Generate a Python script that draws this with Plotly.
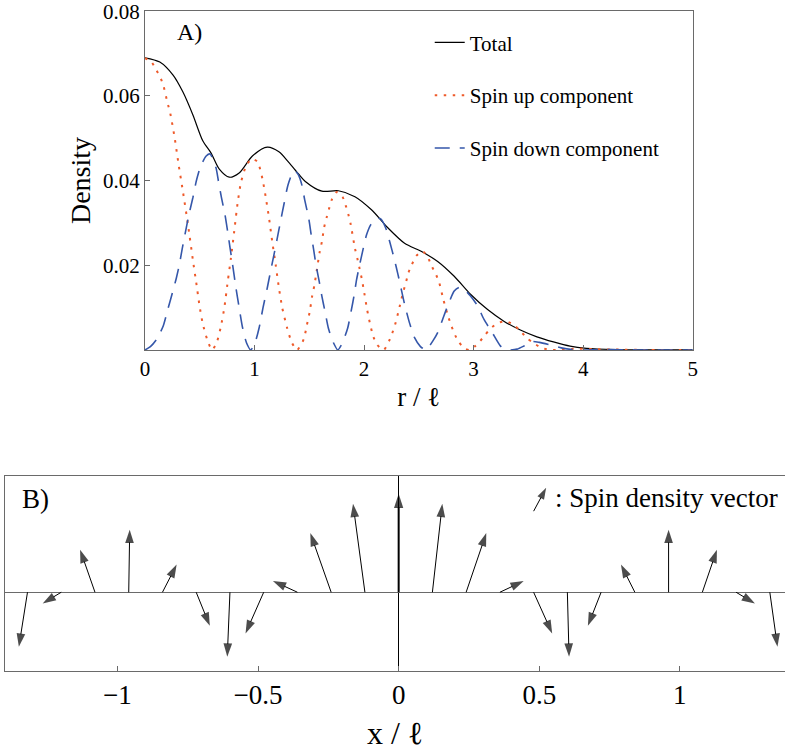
import plotly.graph_objects as go

# ---------------- Panel A data ----------------
r_total = [0.000, 0.136, 0.257, 0.347, 0.438, 0.528, 0.604, 0.679, 0.770, 0.860,
           0.981, 1.117, 1.223, 1.313, 1.404, 1.464, 1.615, 1.766, 1.917, 2.068,
           2.219, 2.370, 2.521, 2.672, 2.823, 2.974, 3.125, 3.276, 3.427, 3.578,
           3.729, 3.880, 4.030, 4.300, 4.600, 5.000]
d_total = [0.0690, 0.0680, 0.0649, 0.0609, 0.0555, 0.0494, 0.0465, 0.0427, 0.0408, 0.0418,
           0.0458, 0.0479, 0.0468, 0.0443, 0.0415, 0.0398, 0.0375, 0.0376, 0.0362, 0.0331,
           0.0288, 0.0252, 0.0233, 0.0209, 0.0174, 0.0131, 0.0096, 0.0068, 0.0047, 0.0031,
           0.0019, 0.0009, 0.0004, 0.0001, 0.0000, 0.0000]

r_up = [0.000, 0.060, 0.106, 0.145, 0.172, 0.205, 0.232, 0.272, 0.308, 0.347,
        0.393, 0.438, 0.468, 0.498, 0.528, 0.573, 0.613, 0.655, 0.694, 0.725,
        0.755, 0.785, 0.815, 0.845, 0.876, 0.921, 0.972, 1.027, 1.072, 1.102,
        1.132, 1.162, 1.193, 1.223, 1.253, 1.298, 1.340, 1.389, 1.449, 1.479,
        1.504, 1.525, 1.546, 1.570, 1.594, 1.615, 1.636, 1.661, 1.682, 1.706,
        1.751, 1.803, 1.833, 1.857, 1.878, 1.917, 1.938, 1.957, 1.978, 2.002,
        2.029, 2.053, 2.083, 2.120, 2.180, 2.228, 2.258, 2.289, 2.319, 2.340,
        2.361, 2.385, 2.406, 2.437, 2.476, 2.536, 2.582, 2.618, 2.657, 2.687,
        2.726, 2.772, 2.799, 2.823, 2.868, 2.914, 2.960, 3.010, 3.059, 3.104,
        3.155, 3.225, 3.297, 3.373, 3.427, 3.487, 3.548, 3.623, 3.700, 3.800,
        3.950, 4.100, 4.300, 4.600, 5.000]
d_up = [0.0689, 0.0680, 0.0660, 0.0641, 0.0621, 0.0585, 0.0558, 0.0500, 0.0437, 0.0374,
        0.0296, 0.0212, 0.0160, 0.0105, 0.0062, 0.0021, 0.0000, 0.0017, 0.0056, 0.0100,
        0.0160, 0.0217, 0.0280, 0.0345, 0.0395, 0.0433, 0.0451, 0.0445, 0.0405, 0.0362,
        0.0313, 0.0256, 0.0202, 0.0147, 0.0100, 0.0052, 0.0018, 0.0000, 0.0025, 0.0060,
        0.0090, 0.0125, 0.0152, 0.0190, 0.0230, 0.0255, 0.0290, 0.0315, 0.0335, 0.0355,
        0.0373, 0.0362, 0.0341, 0.0320, 0.0297, 0.0240, 0.0217, 0.0195, 0.0170, 0.0135,
        0.0094, 0.0064, 0.0033, 0.0012, 0.0000, 0.0021, 0.0040, 0.0065, 0.0096, 0.0119,
        0.0140, 0.0162, 0.0183, 0.0202, 0.0222, 0.0233, 0.0219, 0.0198, 0.0178, 0.0158,
        0.0117, 0.0076, 0.0056, 0.0039, 0.0018, 0.0004, 0.0000, 0.0008, 0.0021, 0.0035,
        0.0051, 0.0064, 0.0068, 0.0058, 0.0045, 0.0028, 0.0016, 0.0005, 0.0000, 0.0001,
        0.0003, 0.0002, 0.0001, 0.0000, 0.0000]

r_down = [0.000, 0.050, 0.106, 0.166, 0.211, 0.251, 0.287, 0.317, 0.341, 0.371,
          0.401, 0.438, 0.468, 0.507, 0.559, 0.595, 0.649, 0.670, 0.700, 0.731,
          0.755, 0.776, 0.800, 0.830, 0.860, 0.891, 0.927, 0.966, 1.005, 1.042,
          1.078, 1.117, 1.147, 1.178, 1.208, 1.238, 1.268, 1.304, 1.343, 1.370,
          1.400, 1.434, 1.458, 1.495, 1.516, 1.540, 1.561, 1.592, 1.615, 1.646,
          1.676, 1.721, 1.760, 1.803, 1.851, 1.881, 1.908, 1.932, 1.963, 1.993,
          2.023, 2.062, 2.113, 2.150, 2.204, 2.234, 2.274, 2.310, 2.340, 2.370,
          2.415, 2.461, 2.515, 2.566, 2.627, 2.672, 2.717, 2.757, 2.823, 2.868,
          2.914, 2.970, 3.034, 3.095, 3.170, 3.246, 3.300, 3.397, 3.457, 3.533,
          3.600, 3.700, 3.800, 3.900, 4.000, 4.200, 4.500, 5.000]
d_down = [0.0000, 0.0008, 0.0025, 0.0056, 0.0098, 0.0135, 0.0170, 0.0205, 0.0240, 0.0280,
          0.0319, 0.0360, 0.0398, 0.0433, 0.0458, 0.0463, 0.0430, 0.0400, 0.0358, 0.0319,
          0.0280, 0.0243, 0.0202, 0.0148, 0.0100, 0.0053, 0.0017, 0.0000, 0.0017, 0.0052,
          0.0100, 0.0147, 0.0186, 0.0225, 0.0264, 0.0304, 0.0343, 0.0388, 0.0416, 0.0423,
          0.0414, 0.0388, 0.0355, 0.0311, 0.0275, 0.0237, 0.0202, 0.0160, 0.0127, 0.0088,
          0.0050, 0.0017, 0.0000, 0.0017, 0.0052, 0.0090, 0.0127, 0.0166, 0.0205, 0.0240,
          0.0272, 0.0296, 0.0311, 0.0310, 0.0284, 0.0256, 0.0217, 0.0178, 0.0143, 0.0108,
          0.0064, 0.0029, 0.0008, 0.0000, 0.0021, 0.0041, 0.0072, 0.0100, 0.0139, 0.0148,
          0.0143, 0.0128, 0.0105, 0.0072, 0.0041, 0.0009, 0.0000, 0.0002, 0.0009, 0.0020,
          0.0018, 0.0012, 0.0005, 0.0001, 0.0000, 0.0001, 0.0000, 0.0000]

xA_ticks = [0, 1, 2, 3, 4, 5]
yA_ticks = [0.02, 0.04, 0.06, 0.08]
yA_ticktext = ["0.02", "0.04", "0.06", "0.08"]

# ---------------- Panel B data (spin density vectors) ----------------
x_pos = [-1.32, -1.20, -1.08, -0.96, -0.84, -0.72, -0.60, -0.48, -0.36, -0.24, -0.12, 0.0,
         0.12, 0.24, 0.36, 0.48, 0.60, 0.72, 0.84, 0.96, 1.08, 1.20, 1.32]
s_x = [-0.087, -0.187, -0.150, 0.010, 0.143, 0.137, -0.027, -0.183, -0.247, -0.210, -0.120, 0.0,
       0.100, 0.203, 0.240, 0.187, 0.017, -0.133, -0.140, 0.000, 0.147, 0.190, 0.077]
s_z = [-0.547, -0.113, 0.427, 0.627, 0.277, -0.337, -0.647, -0.413, 0.113, 0.593, 0.887, 0.987,
       0.887, 0.593, 0.112, -0.413, -0.647, -0.337, 0.277, 0.627, 0.427, -0.113, -0.547]
xB_ticks = [-1, -0.5, 0, 0.5, 1]
xB_ticktext = ["\u22121", "\u22120.5", "0", "0.5", "1"]

# ---------------- layout geometry ----------------
W, H = 790, 754
ML, MR, MT, MB = 4, 0, 9, 83
PW, PH = W - ML - MR, H - MT - MB
xA_dom = [(145 - ML) / PW, (697 - ML) / PW]
yA_dom = [(H - MB - 349) / PH, 1.0]
xB_rng = [-1.4, 1.374]
yB_rng = [-0.79, 1.17]
yB_dom = [0.0, (671 - 475) / PH]
px_per_x = PW / (xB_rng[1] - xB_rng[0])
px_per_y = PH * (yB_dom[1] - yB_dom[0]) / (yB_rng[1] - yB_rng[0])
kx = px_per_y / px_per_x  # vector x-component -> x-axis units (equal pixel scale)

FONT = "Liberation Serif, Times New Roman, serif"
RED = "#ee5a2a"
BLUE = "#3557aa"
AX = "#6a6a6a"

fig = go.Figure()

fig.add_trace(go.Scatter(x=r_total, y=d_total, mode="lines", name="Total",
                         line=dict(color="black", width=1.2, shape="spline", smoothing=0.8),
                         legendgroup="a", xaxis="x", yaxis="y"))
fig.add_trace(go.Scatter(x=r_up, y=d_up, mode="lines", name="Spin up component",
                         line=dict(color=RED, width=2, dash="2.5px,6.5px", shape="spline", smoothing=0.6),
                         legendgroup="b", xaxis="x", yaxis="y"))
fig.add_trace(go.Scatter(x=r_down, y=d_down, mode="lines", name="Spin down component",
                         line=dict(color=BLUE, width=1.6, dash="15px,10px", shape="spline", smoothing=0.6),
                         legendgroup="c", xaxis="x", yaxis="y"))

# arrows
ax_, ay_, sizes = [], [], []
ax0, ay0 = [], []
for xp, sx, sz in zip(x_pos, s_x, s_z):
    if xp == 0.0:
        ax0 += [xp, xp + sx * kx]
        ay0 += [0, sz]
        continue
    ax_ += [xp, xp + sx * kx, None]
    ay_ += [0, sz, None]
    sizes += [0, 14, 0]

fig.add_trace(go.Scatter(x=ax_, y=ay_, mode="lines+markers", showlegend=False,
                         line=dict(color="black", width=1),
                         marker=dict(symbol="arrow", size=sizes, color="black", angleref="previous",
                                     line=dict(width=0)),
                         xaxis="x2", yaxis="y2", hoverinfo="skip"))
fig.add_trace(go.Scatter(x=ax0, y=ay0, mode="lines+markers", showlegend=False,
                         line=dict(color="black", width=2),
                         marker=dict(symbol="arrow", size=[0, 15], color="black", angleref="previous",
                                     line=dict(width=0)),
                         xaxis="x2", yaxis="y2", hoverinfo="skip"))

# legend key arrow in panel B
key_base = ((536.7 - ML) / PW, 0.813)
key_vec = (0.0445, 0.234)
kb_x = xB_rng[0] + key_base[0] * (xB_rng[1] - xB_rng[0])
fig.add_trace(go.Scatter(x=[kb_x, kb_x + key_vec[0]],
                         y=[key_base[1], key_base[1] + key_vec[1]],
                         mode="lines+markers", showlegend=False,
                         line=dict(color="black", width=1),
                         marker=dict(symbol="arrow", size=[0, 12], color="black", angleref="previous",
                                     line=dict(width=0)),
                         xaxis="x2", yaxis="y2", hoverinfo="skip"))

fig.update_layout(
    width=W, height=H,
    margin=dict(l=ML, r=MR, t=MT, b=MB),
    paper_bgcolor="white", plot_bgcolor="white",
    font=dict(family=FONT, color="black"),
    showlegend=True,
    legend=dict(x=(432 - ML) / PW, y=0.983, xanchor="left", yanchor="top",
                font=dict(size=21, family=FONT), bgcolor="rgba(0,0,0,0)",
                tracegroupgap=22.5, itemwidth=30),
    xaxis=dict(domain=xA_dom, range=[0, 5], anchor="y", tickvals=xA_ticks,
               ticks="inside", ticklen=5, tickcolor=AX, tickfont=dict(size=21),
               showline=True, linecolor=AX, linewidth=1, mirror=True, showgrid=False, zeroline=False,
               title=dict(text="r / \u2113", font=dict(size=27), standoff=6)),
    yaxis=dict(domain=yA_dom, range=[0, 0.08005], anchor="x", tickvals=yA_ticks, ticktext=yA_ticktext,
               ticks="inside", ticklen=5, tickcolor=AX, tickfont=dict(size=21),
               ticklabeloverflow="allow",
               showline=True, linecolor=AX, linewidth=1, mirror=True, showgrid=False, zeroline=False,
               title=dict(text="Density", font=dict(size=28), standoff=4)),
    xaxis2=dict(domain=[0, 1], range=xB_rng, anchor="y2", tickvals=xB_ticks, ticktext=xB_ticktext,
                ticks="inside", ticklen=5, tickcolor=AX, tickfont=dict(size=27),
                showline=True, linecolor=AX, linewidth=1, mirror=True, showgrid=False,
                zeroline=True, zerolinecolor="black", zerolinewidth=1,
                title=dict(text="x / \u2113", font=dict(size=32), standoff=12)),
    yaxis2=dict(domain=yB_dom, range=yB_rng, anchor="x2", showticklabels=False, ticks="",
                showline=True, linecolor=AX, linewidth=1, showgrid=False,
                zeroline=True, zerolinecolor=AX, zerolinewidth=1),
    annotations=[
        dict(text="A)", x=0.27, y=0.0752, xref="x", yref="y", xanchor="left", yanchor="middle",
             showarrow=False, font=dict(size=24)),
        dict(text="B)", x=-1.348, y=0.94, xref="x2", yref="y2", xanchor="left", yanchor="middle",
             showarrow=False, font=dict(size=27)),
        dict(text=": Spin density vector", x=(556.7 - 400.7) / px_per_x, y=0.95, xref="x2", yref="y2",
             xanchor="left", yanchor="middle", showarrow=False, font=dict(size=27)),
    ],
)

fig.write_html("out.html", config={"displayModeBar": False},
               post_script="document.body.style.margin='0px';document.body.style.overflow='hidden';")
